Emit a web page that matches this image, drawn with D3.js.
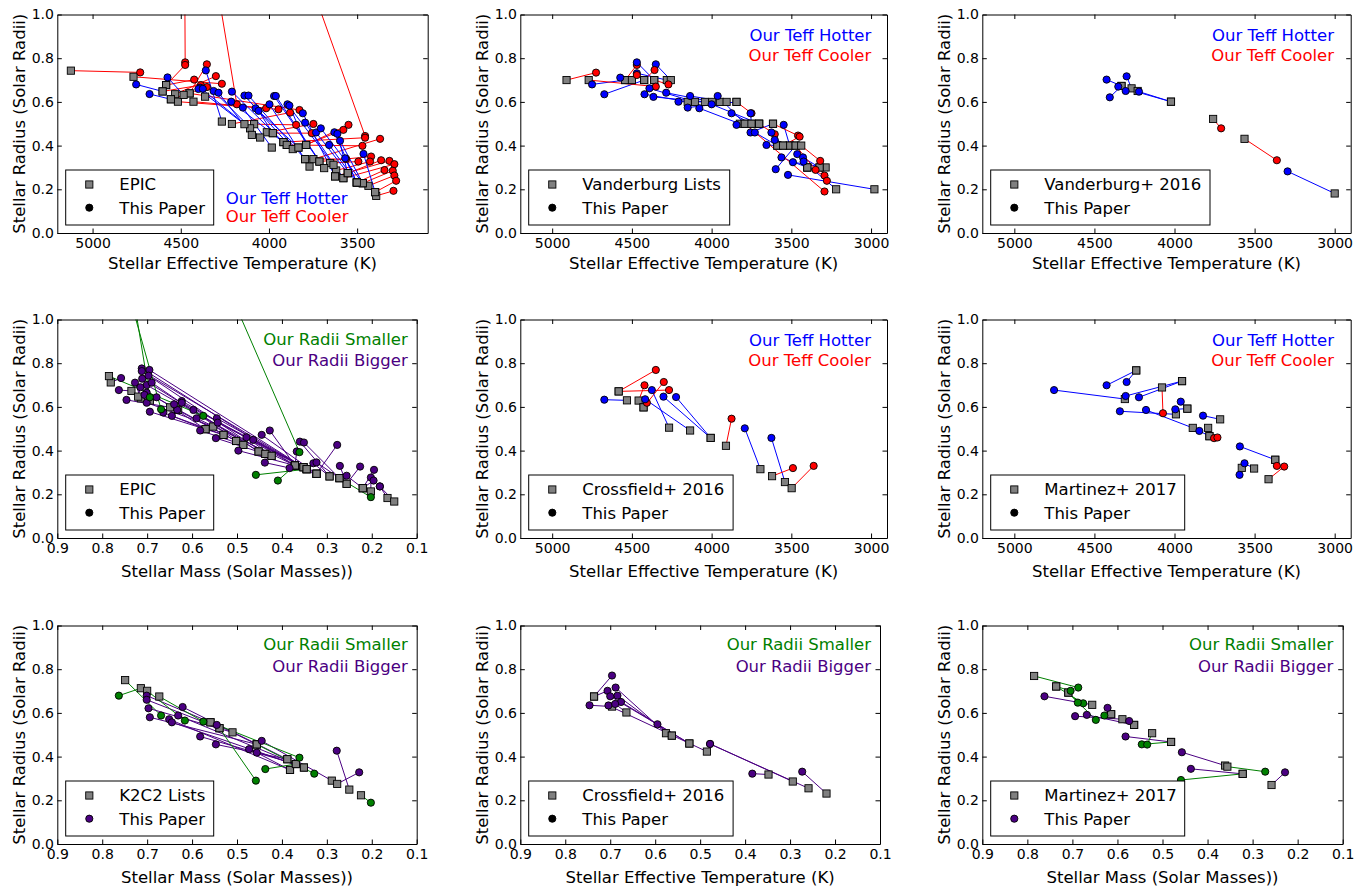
<!DOCTYPE html>
<html>
<head>
<meta charset="utf-8">
<script src="https://cdn.jsdelivr.net/npm/d3@7"></script>
<style>
  body { margin: 0; background: #fff; }
  svg text { font-family: "DejaVu Sans", "Liberation Sans", sans-serif; }
</style>
</head>
<body>
<svg id="fig" width="1368" height="888"></svg>
<script>
// ---------------- data: catalogue value vs. this paper, one entry per star ----------------

// EPIC, Teff vs radius
const epicCatTeff = [5123,4480,4583,4450,4583,4603,4532,4556,4768,4329,4428,4516,4450,4210,4084,4012,3978,3833,3789,3833,3899,3918,3748,3653,3714,3619,3553,3625,3578,3502,3468,3436,3398,3392,3795,
  4484,4603,4556,4267,4107,4050,4097,3918,3899,3984,3865,3795,3833,3978,3770,3714,3687,3634,3789,3625,3578,3553,3468,3502,3502,3553,3468,3502,3398,4139,4362];
const epicCatRad = [0.743,1.60,0.677,0.639,0.677,0.648,0.635,0.612,0.715,1.30,0.601,0.601,0.639,0.499,0.498,0.461,0.457,0.391,0.403,1.30,0.403,0.416,0.338,0.320,0.327,0.286,0.274,0.259,0.251,0.231,0.228,0.216,0.187,0.170,0.338,
  0.632,0.648,0.612,0.510,0.479,0.437,0.449,0.416,0.403,0.391,0.384,0.338,0.391,0.457,0.304,0.327,0.297,0.312,0.403,0.259,0.251,0.274,0.228,0.231,0.231,0.274,0.228,0.231,0.187,0.498,0.624];
const epicOurTeff = [4730,4475,4475,4352,4424,4386,4301,4352,4267,4182,4016,3946,3827,3880,3846,3748,3757,3578,3549,3455,3470,3455,3370,3493,3421,3427,3364,3317,3289,3345,3298,3289,3279,3294,3562,
  4575,4753,4677,4358,4390,4314,4286,4210,4214,4148,4139,4116,4076,4059,3997,3971,3961,3895,3884,3808,3795,3733,3706,3659,3629,3612,3597,3568,3464,4400,4375];
const epicOurRad = [0.735,0.781,0.769,0.772,0.702,0.677,0.718,0.668,0.683,0.589,0.571,0.566,0.563,0.551,0.495,0.499,0.457,0.472,0.495,0.444,0.399,0.436,0.431,0.327,0.350,0.327,0.333,0.330,0.315,0.288,0.285,0.263,0.239,0.193,0.339,
  0.712,0.680,0.636,0.744,0.665,0.650,0.642,0.647,0.601,0.574,0.629,0.629,0.571,0.559,0.589,0.627,0.627,0.589,0.583,0.548,0.505,0.460,0.479,0.403,0.461,0.454,0.422,0.342,0.362,0.659,0.660];

// Vanderburg lists, Teff vs radius
const vlCatTeff = [4910,4542,4423,4500,4771,4542,4360,4281,4256,4423,4500,4150,4104,4042,4360,3996,3948,3906,3844,3823,3792,3702,3750,3702,3844,3615,3588,3702,3552,3510,3588,3510,3400,3473,2979,3285,3615,3552,3323,3400,3219,3473,3438,3400,3323,3792,3750];
const vlCatRad = [0.70,0.70,0.70,0.70,0.70,0.70,0.70,0.70,0.70,0.70,0.70,0.60,0.60,0.60,0.70,0.60,0.60,0.60,0.60,0.50,0.50,0.50,0.50,0.50,0.60,0.50,0.40,0.50,0.40,0.40,0.40,0.40,0.30,0.40,0.20,0.30,0.50,0.40,0.30,0.30,0.20,0.40,0.40,0.30,0.30,0.50,0.50];
const vlOurTeff = [4725,4750,4673,4573,4350,4469,4469,4469,4350,4358,4469,4421,4390,4365,4271,4285,4208,4135,4150,4077,3962,4000,3875,3844,3750,3756,3729,3604,3625,3604,3656,3548,3562,3598,3521,3490,3458,3448,3463,3427,3423,3348,3319,3292,3277,3292,3756];
const vlOurRad = [0.734,0.680,0.635,0.711,0.670,0.769,0.781,0.731,0.772,0.746,0.723,0.635,0.662,0.623,0.680,0.642,0.601,0.627,0.574,0.571,0.627,0.589,0.548,0.495,0.548,0.460,0.460,0.452,0.460,0.426,0.403,0.495,0.346,0.292,0.266,0.324,0.446,0.441,0.361,0.346,0.327,0.289,0.330,0.263,0.239,0.190,0.548];

// Vanderburg+ 2016, Teff vs radius
const v16CatTeff = [4331,4268,4022,4331,4230,4022,3759,3563,3000];
const v16CatRad = [0.673,0.662,0.601,0.673,0.650,0.601,0.522,0.431,0.181];
const v16OurTeff = [4424,4299,4351,4404,4305,4222,3709,3361,3294];
const v16OurRad = [0.702,0.717,0.670,0.621,0.650,0.647,0.479,0.333,0.282];

// EPIC, mass vs radius
const epicCatMass = [0.781,0.735,0.649,0.714,0.371,0.352,0.345,0.452,0.437,0.423,0.486,0.502,0.530,0.553,0.570,0.570,0.530,0.371,0.323,0.502,0.452,0.371,0.352,0.345,0.486,0.437,0.371,0.423,0.352,0.323,0.371,0.323,0.345,0.294,0.272,0.294,0.272,0.323,0.256,0.220,0.256,0.202,0.220,0.220,0.165,0.371,0.150,0.694,0.631,0.720,
  0.766,0.746,0.553,0.785,0.345,0.371,0.272];
const epicCatMassRad = [0.712,0.673,0.598,0.639,0.332,0.324,0.315,0.396,0.385,0.376,0.426,0.444,0.472,0.510,0.498,0.498,0.472,0.332,0.294,0.444,0.396,0.332,0.324,0.315,0.426,0.385,0.332,0.376,0.324,0.294,0.332,0.294,0.315,0.282,0.274,0.282,0.274,0.294,0.248,0.228,0.248,0.213,0.228,0.228,0.183,0.332,0.167,0.629,0.586,0.647,
  1.30,1.30,1.30,0.741,0.315,0.332,0.274];
const epicOurMass = [0.758,0.763,0.746,0.727,0.712,0.712,0.695,0.711,0.697,0.701,0.690,0.701,0.694,0.701,0.679,0.664,0.645,0.623,0.623,0.633,0.597,0.590,0.545,0.543,0.582,0.547,0.497,0.479,0.464,0.445,0.427,0.438,0.383,0.360,0.351,0.330,0.323,0.277,0.271,0.256,0.226,0.202,0.196,0.195,0.182,0.367,0.182,0.706,0.640,0.715,
  0.669,0.694,0.361,0.575,0.458,0.409,0.202];
const epicOurMassRad = [0.732,0.677,0.632,0.711,0.776,0.764,0.769,0.729,0.743,0.700,0.711,0.665,0.578,0.619,0.644,0.574,0.559,0.627,0.619,0.586,0.586,0.548,0.548,0.528,0.492,0.457,0.400,0.461,0.449,0.472,0.492,0.345,0.320,0.441,0.437,0.342,0.346,0.426,0.330,0.285,0.327,0.277,0.263,0.312,0.236,0.396,0.236,0.655,0.612,0.690,
  0.589,0.644,0.393,0.559,0.289,0.263,0.187];

// Crossfield+ 2016, Teff vs radius
const c16CatTeff = [4531,4583,4458,4427,4583,4267,4427,4135,4006,4006,3910,3694,3540,3621,3498];
const c16CatRad = [0.630,0.671,0.629,0.598,0.671,0.505,0.598,0.492,0.458,0.458,0.422,0.315,0.256,0.283,0.228];
const c16OurTeff = [4673,4350,4421,4300,4267,4375,4406,4417,4302,4223,3875,3792,3625,3490,3360];
const c16OurRad = [0.633,0.769,0.699,0.714,0.677,0.677,0.619,0.635,0.647,0.645,0.546,0.502,0.458,0.320,0.330];

// Martinez+ 2017, Teff vs radius
const m17CatTeff = [4310,4239,4239,3953,3953,4078,3991,3886,3920,3920,3715,3782,3790,3782,3371,3503,3580,3371,3413];
const m17CatRad = [0.636,0.767,0.767,0.718,0.718,0.689,0.566,0.504,0.592,0.592,0.543,0.466,0.504,0.466,0.358,0.318,0.321,0.358,0.269];
const m17OurTeff = [4752,4424,4299,4305,4222,4072,4341,4178,3995,3961,3822,3845,3753,3732,3592,3563,3594,3361,3315];
const m17OurRad = [0.677,0.699,0.714,0.650,0.644,0.571,0.580,0.586,0.589,0.624,0.560,0.490,0.457,0.460,0.419,0.342,0.289,0.330,0.327];

// K2C2 lists, mass vs radius
const k2CatMass = [0.714,0.749,0.559,0.539,0.510,0.456,0.388,0.369,0.382,0.351,0.369,0.388,0.456,0.351,0.382,0.289,0.250,0.277,0.700,0.673,0.539,0.369,0.559,0.456,0.224];
const k2CatRad = [0.713,0.750,0.557,0.530,0.511,0.456,0.388,0.366,0.339,0.350,0.366,0.388,0.456,0.350,0.339,0.290,0.249,0.275,0.701,0.675,0.530,0.366,0.557,0.456,0.223];
const k2OurMass = [0.763,0.669,0.701,0.701,0.697,0.694,0.621,0.631,0.651,0.645,0.582,0.547,0.545,0.473,0.456,0.445,0.278,0.228,0.616,0.575,0.458,0.437,0.361,0.328,0.202];
const k2OurRad = [0.679,0.588,0.679,0.660,0.621,0.580,0.627,0.588,0.571,0.557,0.492,0.456,0.545,0.434,0.418,0.472,0.427,0.328,0.565,0.560,0.290,0.343,0.395,0.322,0.189];

// Crossfield+ 2016, mass vs radius
const c16CatMass = [0.696,0.736,0.736,0.576,0.563,0.524,0.485,0.524,0.563,0.294,0.348,0.219,0.664,0.259];
const c16CatMassRad = [0.629,0.675,0.675,0.507,0.496,0.460,0.423,0.460,0.496,0.286,0.318,0.231,0.602,0.255];
const c16OurMass = [0.746,0.696,0.706,0.688,0.684,0.700,0.704,0.676,0.595,0.478,0.384,0.273,0.689,0.478];
const c16OurMassRad = [0.635,0.771,0.701,0.716,0.679,0.676,0.634,0.650,0.548,0.458,0.322,0.331,0.641,0.458];

// Martinez+ 2017, mass vs radius
const m17CatMass = [0.785,0.736,0.736,0.709,0.709,0.614,0.656,0.589,0.563,0.614,0.563,0.481,0.481,0.523,0.361,0.322,0.322,0.356,0.258];
const m17CatMassRad = [0.769,0.721,0.721,0.693,0.693,0.594,0.637,0.571,0.545,0.594,0.545,0.467,0.467,0.507,0.359,0.321,0.321,0.354,0.270];
const m17OurMass = [0.687,0.704,0.676,0.688,0.648,0.629,0.762,0.694,0.668,0.622,0.574,0.582,0.546,0.534,0.457,0.437,0.459,0.272,0.228];
const m17OurMassRad = [0.716,0.701,0.644,0.647,0.568,0.588,0.676,0.585,0.591,0.623,0.563,0.492,0.456,0.455,0.420,0.344,0.293,0.331,0.328];

// axis ticks and labels
const teffTicks = [5000, 4500, 4000, 3500, 3000];
const massTicks = [0.9, 0.8, 0.7, 0.6, 0.5, 0.4, 0.3, 0.2, 0.1];
const radiusTicks = [0.0, 0.2, 0.4, 0.6, 0.8, 1.0];
const teffLabel = "Stellar Effective Temperature (K)";
const massLabel = "Stellar Mass (Solar Masses))";
const radiusLabel = "Stellar Radius (Solar Radii)";
const ourLabel = "This Paper";

// ---------------- styling ----------------
const BLUE = "#0000ff", RED = "#ff0000", GREEN = "#008000", INDIGO = "#4b0082", GREY = "#808080";

const frames = [
  { l: 57.3,  r: 427.7,  t: 14.5,  b: 233, xl: 36.3 },
  { l: 520.3, r: 887,    t: 14.5,  b: 233, xl: 36.3 },
  { l: 982.3, r: 1350.7, t: 14.5,  b: 233, xl: 36.3 },
  { l: 57.3,  r: 416.7,  t: 319.5, b: 538, xl: 39 },
  { l: 520.3, r: 887,    t: 319.5, b: 538, xl: 39 },
  { l: 982.3, r: 1350.7, t: 319.5, b: 538, xl: 39 },
  { l: 57.3,  r: 416.7,  t: 625.5, b: 844, xl: 39 },
  { l: 520.3, r: 880,    t: 625.5, b: 844, xl: 39 },
  { l: 982.3, r: 1342.7, t: 625.5, b: 844, xl: 39 }
];

const panels = [
  { kind: "teff", catX: epicCatTeff, catR: epicCatRad, ourX: epicOurTeff, ourR: epicOurRad,
    domain: [5200, 3100], ticks: teffTicks.slice(0, 4), xLabel: teffLabel, legend: "EPIC",
    legendW: 148, dot: "#000", note: { anchor: "start", dx: 168.4, y1: -28.7, y2: -10.7, fromBottom: true } },
  { kind: "teff", catX: vlCatTeff, catR: vlCatRad, ourX: vlOurTeff, ourR: vlOurRad,
    domain: [5200, 2900], ticks: teffTicks, xLabel: teffLabel, legend: "Vanderburg Lists",
    legendW: 201, dot: "#000", note: { anchor: "end", dx: -15.7, y1: 26.5, y2: 46.2 } },
  { kind: "teff", catX: v16CatTeff, catR: v16CatRad, ourX: v16OurTeff, ourR: v16OurRad,
    domain: [5200, 2900], ticks: teffTicks, xLabel: teffLabel, legend: "Vanderburg+ 2016",
    legendW: 219.3, dot: "#000", note: { anchor: "end", dx: -16.7, y1: 26.5, y2: 46.2 } },
  { kind: "mass", catX: epicCatMass, catR: epicCatMassRad, ourX: epicOurMass, ourR: epicOurMassRad,
    domain: [0.9, 0.1], ticks: massTicks, xLabel: massLabel, legend: "EPIC",
    legendW: 148, dot: "#000", note: { anchor: "end", dx: -9, y1: 25, y2: 46.3 } },
  { kind: "teff", catX: c16CatTeff, catR: c16CatRad, ourX: c16OurTeff, ourR: c16OurRad,
    domain: [5200, 2900], ticks: teffTicks, xLabel: teffLabel, legend: "Crossfield+ 2016",
    legendW: 204.4, dot: "#000", note: { anchor: "end", dx: -16, y1: 26.5, y2: 46.2 } },
  { kind: "teff", catX: m17CatTeff, catR: m17CatRad, ourX: m17OurTeff, ourR: m17OurRad,
    domain: [5200, 2900], ticks: teffTicks, xLabel: teffLabel, legend: "Martinez+ 2017",
    legendW: 194, dot: "#000", note: { anchor: "end", dx: -16.7, y1: 26.5, y2: 46.2 } },
  { kind: "mass", catX: k2CatMass, catR: k2CatRad, ourX: k2OurMass, ourR: k2OurRad,
    domain: [0.9, 0.1], ticks: massTicks, xLabel: massLabel, legend: "K2C2 Lists",
    legendW: 148, dot: INDIGO, note: { anchor: "end", dx: -9, y1: 24.5, y2: 46.2 } },
  { kind: "mass", catX: c16CatMass, catR: c16CatMassRad, ourX: c16OurMass, ourR: c16OurMassRad,
    domain: [0.9, 0.1], ticks: massTicks, xLabel: teffLabel, legend: "Crossfield+ 2016",
    legendW: 204.4, dot: "#000", note: { anchor: "end", dx: -9, y1: 24.5, y2: 46.2 } },
  { kind: "mass", catX: m17CatMass, catR: m17CatMassRad, ourX: m17OurMass, ourR: m17OurMassRad,
    domain: [0.9, 0.1], ticks: massTicks, xLabel: massLabel, legend: "Martinez+ 2017",
    legendW: 194, dot: INDIGO, note: { anchor: "end", dx: -9.4, y1: 24.5, y2: 46.2 } }
];

const TICK_FONT = 14, LABEL_FONT = 16.5, TICK_LEN = 4.5;
const SQ = 7.2, DOT_R = 3.6, EDGE = 0.9;

const svg = d3.select("#fig");
const defs = svg.append("defs");

panels.forEach((p, i) => {
  const f = frames[i];
  const x = d3.scaleLinear().domain(p.domain).range([f.l, f.r]);
  const y = d3.scaleLinear().domain([0, 1]).range([f.b, f.t]);
  const g = svg.append("g");

  defs.append("clipPath").attr("id", "clip" + i)
    .append("rect").attr("x", f.l).attr("y", f.t)
    .attr("width", f.r - f.l).attr("height", f.b - f.t);

  const pairs = p.catX.map((cx, k) => ({ cx, cr: p.catR[k], ox: p.ourX[k], or: p.ourR[k] }));
  // Teff panels: blue when our Teff is hotter; mass panels: green when our radius is smaller
  const colour = d => p.kind === "teff" ? (d.ox > d.cx ? BLUE : RED) : (d.or < d.cr ? GREEN : INDIGO);

  const plot = g.append("g").attr("clip-path", `url(#clip${i})`);
  plot.selectAll("line.pair").data(pairs).join("line").attr("class", "pair")
    .attr("x1", d => x(d.cx)).attr("y1", d => y(d.cr))
    .attr("x2", d => x(d.ox)).attr("y2", d => y(d.or))
    .attr("stroke", colour).attr("stroke-width", 1);
  plot.selectAll("rect.cat").data(pairs).join("rect").attr("class", "cat")
    .attr("x", d => x(d.cx) - SQ / 2).attr("y", d => y(d.cr) - SQ / 2)
    .attr("width", SQ).attr("height", SQ)
    .attr("fill", GREY).attr("stroke", "#000").attr("stroke-width", EDGE);
  plot.selectAll("circle.our").data(pairs).join("circle").attr("class", "our")
    .attr("cx", d => x(d.ox)).attr("cy", d => y(d.or)).attr("r", DOT_R)
    .attr("fill", colour).attr("stroke", "#000").attr("stroke-width", EDGE);

  // axes: ticks pointing inward on all four sides
  const fmtX = p.kind === "teff" ? d3.format("d") : d3.format(".1f");
  const styleAxis = sel => {
    sel.selectAll("path.domain").attr("stroke", "#000").attr("stroke-width", 1);
    sel.selectAll(".tick line").attr("stroke", "#000").attr("stroke-width", 1);
    sel.selectAll(".tick text").attr("font-size", TICK_FONT).attr("fill", "#000")
      .attr("font-family", '"DejaVu Sans", sans-serif');
  };
  g.append("g").attr("transform", `translate(0,${f.b})`)
    .call(d3.axisBottom(x).tickValues(p.ticks).tickFormat(fmtX)
      .tickSizeInner(-TICK_LEN).tickSizeOuter(0).tickPadding(5.4))
    .call(styleAxis);
  g.append("g").attr("transform", `translate(0,${f.t})`)
    .call(d3.axisTop(x).tickValues(p.ticks).tickFormat("")
      .tickSizeInner(-TICK_LEN).tickSizeOuter(0))
    .call(styleAxis);
  g.append("g").attr("transform", `translate(${f.l},0)`)
    .call(d3.axisLeft(y).tickValues(radiusTicks).tickFormat(d3.format(".1f"))
      .tickSizeInner(-TICK_LEN).tickSizeOuter(0).tickPadding(3.4))
    .call(styleAxis);
  g.append("g").attr("transform", `translate(${f.r},0)`)
    .call(d3.axisRight(y).tickValues(radiusTicks).tickFormat("")
      .tickSizeInner(-TICK_LEN).tickSizeOuter(0))
    .call(styleAxis);

  // axis titles
  g.append("text").attr("x", (f.l + f.r) / 2).attr("y", f.b + f.xl)
    .attr("text-anchor", "middle").attr("font-size", LABEL_FONT).text(p.xLabel);
  g.append("text")
    .attr("transform", `translate(${f.l - 32.5},${(f.t + f.b) / 2}) rotate(-90)`)
    .attr("text-anchor", "middle").attr("font-size", LABEL_FONT).text(radiusLabel);

  // legend, lower left
  const lx = f.l + 8.4, ly = f.b - 8 - 55;
  const leg = g.append("g");
  leg.append("rect").attr("x", lx).attr("y", ly).attr("width", p.legendW).attr("height", 55)
    .attr("fill", "#fff").attr("stroke", "#000").attr("stroke-width", 1);
  leg.append("rect").attr("x", lx + 23.6 - SQ / 2).attr("y", ly + 14.5 - SQ / 2)
    .attr("width", SQ).attr("height", SQ)
    .attr("fill", GREY).attr("stroke", "#000").attr("stroke-width", EDGE);
  leg.append("circle").attr("cx", lx + 23.6).attr("cy", ly + 37.7).attr("r", DOT_R)
    .attr("fill", p.dot).attr("stroke", "#000").attr("stroke-width", EDGE);
  leg.append("text").attr("x", lx + 53.6).attr("y", ly + 20.2)
    .attr("font-size", LABEL_FONT).text(p.legend);
  leg.append("text").attr("x", lx + 53.6).attr("y", ly + 43.5)
    .attr("font-size", LABEL_FONT).text(ourLabel);

  // colour key
  const n = p.note;
  const nx = n.anchor === "start" ? f.l + n.dx : f.r + n.dx;
  const baseY = n.fromBottom ? f.b : f.t;
  const lines = p.kind === "teff"
    ? [["Our Teff Hotter", BLUE], ["Our Teff Cooler", RED]]
    : [["Our Radii Smaller", GREEN], ["Our Radii Bigger", INDIGO]];
  g.append("text").attr("x", nx).attr("y", baseY + n.y1).attr("text-anchor", n.anchor)
    .attr("font-size", LABEL_FONT).attr("fill", lines[0][1]).text(lines[0][0]);
  g.append("text").attr("x", nx).attr("y", baseY + n.y2).attr("text-anchor", n.anchor)
    .attr("font-size", LABEL_FONT).attr("fill", lines[1][1]).text(lines[1][0]);
});
</script>
</body>
</html>
